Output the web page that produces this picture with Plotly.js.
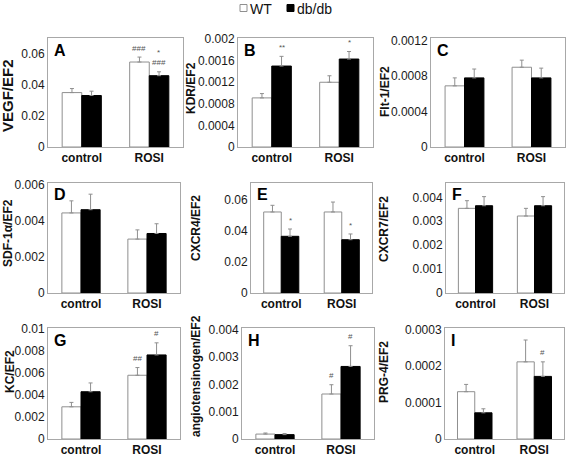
<!DOCTYPE html>
<html>
<head>
<meta charset="utf-8">
<script src="https://cdn.plot.ly/plotly-3.0.1.min.js"></script>
<style>
html,body{margin:0;padding:0;background:#fff;}
#chart{width:567px;height:456px;}
</style>
</head>
<body>
<div id="chart"></div>
<script>
// ---------- DATA ----------
const categories = ['control', 'ROSI'];
const seriesNames = ['WT', 'db/db'];
const panelLetters = ['A', 'B', 'C', 'D', 'E', 'F', 'G', 'H', 'I'];
const yTitles = ['VEGF/EF2', 'KDR/EF2', 'Flt-1/EF2', 'SDF-1α/EF2', 'CXCR4/EF2', 'CXCR7/EF2', 'KC/EF2', 'angiotensinogen/EF2', 'PRG-4/EF2'];

// means and SEM, [control, ROSI]
const wtMean = [[0.0351, 0.0548], [0.00091, 0.0012], [0.00069, 0.0009], [0.00444, 0.00299], [0.0523, 0.0523], [0.00354, 0.00322], [0.00293, 0.0058], [0.00018, 0.00165], [0.00013, 0.000212]];
const wtErr  = [[0.0026, 0.0032], [0.00008, 0.00012], [0.00009, 0.00008], [0.00067, 0.00051], [0.0043, 0.0064], [0.00032, 0.00032], [0.0004, 0.0007], [0.00004, 0.00034], [0.00002, 0.00006]];
const dbMean = [[0.0332, 0.046], [0.0015, 0.00163], [0.00078, 0.00078], [0.00462, 0.0033], [0.0366, 0.0344], [0.00365, 0.00365], [0.0043, 0.00765], [0.00016, 0.00266], [0.000072, 0.000172]];
const dbErr  = [[0.0028, 0.0025], [0.00018, 0.00014], [0.0001, 0.00011], [0.00086, 0.00054], [0.0047, 0.0037], [0.00038, 0.00038], [0.0008, 0.0011], [0.00004, 0.00076], [0.000011, 0.00004]];

// significance marks, [control, ROSI]
const wtSig = [['', '###'], ['', ''], ['', ''], ['', ''], ['', ''], ['', ''], ['', '##'], ['', '#'], ['', '']];
const dbSig = [['', '*<br>###'], ['**', '*'], ['', ''], ['', ''], ['*', '*'], ['', ''], ['', '#'], ['', '#'], ['', '#']];

// y tick labels per panel
const yTickLabels = [
  ['0', '0.02', '0.04', '0.06'],
  ['0', '0.0004', '0.0008', '0.0012', '0.0016', '0.002'],
  ['0', '0.0004', '0.0008', '0.0012'],
  ['0', '0.002', '0.004', '0.006'],
  ['0', '0.02', '0.04', '0.06'],
  ['0', '0.001', '0.002', '0.003', '0.004'],
  ['0', '0.002', '0.004', '0.006', '0.008', '0.01'],
  ['0', '0.001', '0.002', '0.003', '0.004'],
  ['0', '0.0001', '0.0002', '0.0003']
];

// ---------- LAYOUT (positions/styles) ----------
const W = 567, H = 456;
const FONT = 'Liberation Sans, Arial, Helvetica, sans-serif';
const frames = [
  [48, 183, 38, 147], [238, 373, 38, 147], [431, 565, 38, 147],
  [48, 180, 183, 293], [251, 372, 183, 293], [446, 564, 183, 293],
  [48, 180, 328, 439], [242, 374, 328, 439], [445, 564, 328, 439]
];
const yMaxes = [0.0703, 0.00202, 0.00123, 0.0061, 0.071, 0.0046, 0.0101, 0.00407, 0.000305];
const yTitlePos = [[7, 96, 15], [191, 88, 12], [385, 92, 12], [8, 233, 12], [196, 228, 12], [384, 229, 12], [10, 372, 12], [196, 376, 12], [384, 372, 12]];
const sigShift = [[2, 3], [2, 2], [0, 0], [0, 0], [2, 2], [0, 0], [3, 3], [3, 3], [0, 3]];

const px = v => v / W;
const py = v => 1 - v / H;
const xIdx = categories.map((_, k) => k);
const barHalf = 0.145;

const traces = [];
const layout = {
  width: W, height: H,
  margin: {l: 0, r: 0, t: 0, b: 0},
  paper_bgcolor: '#fff', plot_bgcolor: '#fff',
  showlegend: false,
  barmode: 'group', bargap: 0.42, bargroupgap: 0,
  font: {family: FONT, color: '#1a1a1a'},
  annotations: [], shapes: []
};

panelLetters.forEach((letter, i) => {
  const n = i + 1;
  const xa = n === 1 ? 'x' : 'x' + n;
  const ya = n === 1 ? 'y' : 'y' + n;
  const [x0, x1, y0, y1] = frames[i];
  traces.push({
    type: 'bar', name: seriesNames[0], x: xIdx, y: wtMean[i], xaxis: xa, yaxis: ya,
    marker: {color: '#ffffff', line: {color: '#8f8f8f', width: 1}},
    error_y: {type: 'data', symmetric: false, array: wtErr[i], arrayminus: [0, 0], color: '#8f8f8f', thickness: 1, width: 2},
    hoverinfo: 'skip'
  });
  traces.push({
    type: 'bar', name: seriesNames[1], x: xIdx, y: dbMean[i], xaxis: xa, yaxis: ya,
    marker: {color: '#000000', line: {color: '#000000', width: 1}},
    error_y: {type: 'data', symmetric: false, array: dbErr[i], arrayminus: [0, 0], color: '#8f8f8f', thickness: 1, width: 2},
    hoverinfo: 'skip'
  });
  layout['xaxis' + (n === 1 ? '' : n)] = {
    domain: [px(x0), px(x1)], anchor: ya, range: [-0.5, 1.5],
    tickvals: xIdx, ticktext: categories, ticks: '',
    tickfont: {family: FONT, size: 12, weight: 'bold', color: '#111'},
    showline: true, mirror: true, linecolor: '#a8a8a8', linewidth: 1,
    showgrid: false, zeroline: false, fixedrange: true
  };
  const tv = yTickLabels[i].map(parseFloat);
  layout['yaxis' + (n === 1 ? '' : n)] = {
    domain: [py(y1), py(y0)], anchor: xa, range: [0, yMaxes[i]],
    tickvals: tv, ticktext: yTickLabels[i], ticks: '',
    tickfont: {family: FONT, size: 12, color: '#1a1a1a'},
    showline: true, mirror: true, linecolor: '#a8a8a8', linewidth: 1,
    showgrid: false, zeroline: false, fixedrange: true
  };
  // panel letter
  layout.annotations.push({
    xref: 'paper', yref: 'paper', x: px(x0 + 4), y: py(y0 + 12), xanchor: 'left', yanchor: 'middle',
    text: '<b>' + letter + '</b>', showarrow: false, font: {family: FONT, size: 16, color: '#000'}
  });
  // y title
  const [tx, ty, ts] = yTitlePos[i];
  layout.annotations.push({
    xref: 'paper', yref: 'paper', x: px(tx), y: py(ty), xanchor: 'center', yanchor: 'middle',
    textangle: -90, text: '<b>' + yTitles[i] + '</b>', showarrow: false, font: {family: FONT, size: ts, color: '#111'}
  });
  // significance marks
  categories.forEach((c, k) => {
    if (wtSig[i][k]) layout.annotations.push({
      xref: xa, yref: ya, x: k - barHalf, y: wtMean[i][k] + wtErr[i][k], xanchor: 'center', yanchor: 'bottom',
      yshift: sigShift[i][0], text: wtSig[i][k], showarrow: false, font: {family: FONT, size: 8, color: '#555'}
    });
    if (dbSig[i][k]) layout.annotations.push({
      xref: xa, yref: ya, x: k + barHalf, y: dbMean[i][k] + dbErr[i][k], xanchor: 'center', yanchor: 'bottom',
      yshift: sigShift[i][1], text: dbSig[i][k], showarrow: false, font: {family: FONT, size: 8, color: '#555'}
    });
  });
});

// legend
const legendItems = [[240, '#ffffff', '#8f8f8f'], [287, '#000000', '#000000']];
seriesNames.forEach((nm, s) => {
  const [lx, fill, line] = legendItems[s];
  layout.shapes.push({type: 'rect', xref: 'paper', yref: 'paper', x0: px(lx), x1: px(lx + 7), y0: py(11.5), y1: py(4.5),
    fillcolor: fill, line: {color: line, width: 1}});
  layout.annotations.push({xref: 'paper', yref: 'paper', x: px(lx + 9), y: 1, xanchor: 'left', yanchor: 'top',
    borderpad: 0, text: nm, showarrow: false, font: {family: FONT, size: 14, color: '#111'}});
});

Plotly.newPlot('chart', traces, layout, {staticPlot: true, displayModeBar: false});
</script>
</body>
</html>
